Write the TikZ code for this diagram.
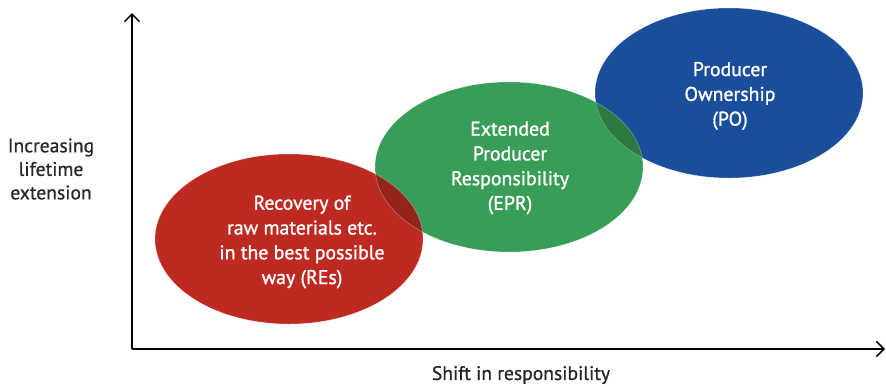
\documentclass[tikz,border=0pt]{standalone}
\usepackage{fontspec}
\usetikzlibrary{arrows.meta}
\setmainfont{PT Sans}
\newfontfamily\heavysans[FakeBold=1.3]{PT Sans}
\newfontfamily\labelsans[FakeBold=0.7]{PT Sans}
\begin{document}
\definecolor{reRed}{RGB}{190,42,34}
\definecolor{reRedDark}{RGB}{148,36,28}
\definecolor{eprGreen}{RGB}{56,157,86}
\definecolor{eprGreenDark}{RGB}{44,122,66}
\definecolor{poBlue}{RGB}{26,78,154}
\begin{tikzpicture}[x=1pt,y=-1pt,
  blob/.style={line width=0.5pt,draw=white,draw opacity=0.35},
  blobtext/.style={text=white,align=center,font=\heavysans\fontsize{19.8}{24.8}\selectfont},
  axislabel/.style={text=black!85,align=center,font=\labelsans\fontsize{19.6}{23.5}\selectfont},
  axis/.style={line width=1.6pt,-{Straight Barb[length=7.5pt,width=15pt,line width=1.5pt]}}]
\useasboundingbox (0,0) rectangle (886,386);
% the three ellipses
\def\redE{(289,239) ellipse [x radius=134,y radius=85]}
\def\greenE{(509,167) ellipse [x radius=134,y radius=85]}
\def\blueE{(729,93) ellipse [x radius=134,y radius=85]}
\fill[reRed] \redE;
\fill[eprGreen] \greenE;
\fill[poBlue] \blueE;
% darker overlap areas
\begin{scope}
  \clip \redE;
  \fill[reRedDark] \greenE;
\end{scope}
\begin{scope}
  \clip \greenE;
  \fill[eprGreenDark] \blueE;
\end{scope}
\draw[blob] \redE;
\draw[blob] \greenE;
\draw[blob] \blueE;
% labels inside the ellipses
\node[blobtext] (re) at (302,242) {Recovery of\\raw materials etc.\\in the best possible\\way (REs)};
\node[blobtext] (epr) at (510,168) {Extended\\Producer\\Responsibility\\(EPR)};
\node[blobtext] (po) at (730,96) {Producer\\Ownership\\(PO)};
% axes
\coordinate (origin) at (132,349);
\coordinate (ytop) at (132,13);
\coordinate (xend) at (885,349);
\draw[axis] (origin) -- (ytop);
\draw[axis] (origin) -- (xend);
\node[axislabel] (ylab) at (51,169) {Increasing\\lifetime\\extension};
\node[axislabel] (xlab) at (521,375) {Shift in responsibility};
\end{tikzpicture}
\end{document}
